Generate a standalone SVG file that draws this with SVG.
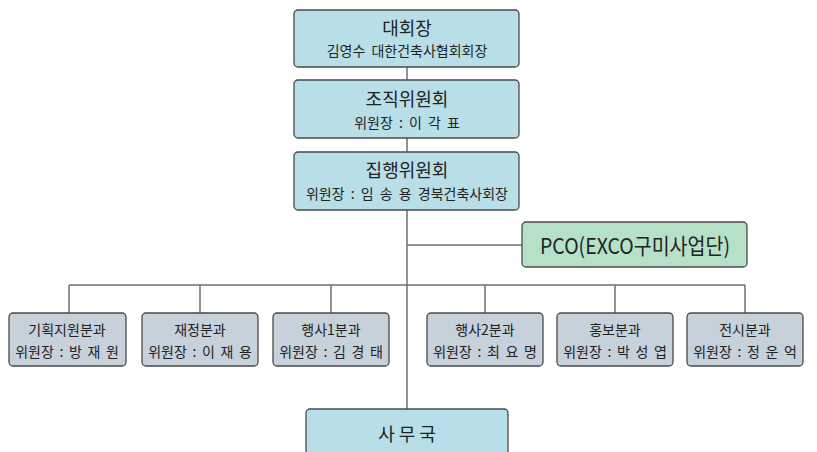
<svg xmlns="http://www.w3.org/2000/svg" width="817" height="452" viewBox="0 0 817 452">
<style>
.box{stroke:#4a4a4a;stroke-width:1.3}
.blue{fill:#b8dfe7}
.green{fill:#b6e1c9}
.gray{fill:#c6d1db}
.ln{stroke:#707070;stroke-width:1.5;fill:none}
text{font-family:"Noto Sans CJK KR","Noto Sans",sans-serif;fill:#222;text-anchor:middle}
.t{font-size:18px}
.s{font-size:14px;word-spacing:3px}
.b{font-size:14px;word-spacing:2.5px}
</style>
<rect width="817" height="452" fill="#fff"/>
<g id="connectors">
<path class="ln" d="M407 67V80M407 138V152M407 210V409M407 245H522M69 285H745M69 285V313M200 285V313M331 285V313M485 285V313M615 285V313M745 285V313"/>
</g>
<g id="n1"><rect class="box blue" x="294" y="10" width="225" height="57" rx="4"/><text class="t" x="407" y="35">대회장</text><text class="s" x="407" y="56">김영수 대한건축사협회회장</text></g>
<g id="n2"><rect class="box blue" x="294" y="80" width="225" height="58" rx="4"/><text class="t" x="407" y="106">조직위원회</text><text class="s" x="407" y="128">위원장 : 이 각 표</text></g>
<g id="n3"><rect class="box blue" x="294" y="152" width="225" height="58" rx="4"/><text class="t" x="407" y="177">집행위원회</text><text class="s" x="407" y="199">위원장 : 임 송 용 경북건축사회장</text></g>
<g id="pco"><rect class="box green" x="522" y="222" width="225" height="45" rx="4"/><text x="635" y="254" font-size="22" textLength="190" lengthAdjust="spacingAndGlyphs">PCO(EXCO구미사업단)</text></g>
<g id="d1"><rect class="box gray" x="9" y="313" width="117" height="53" rx="4"/><text class="b" x="67" y="335">기획지원분과</text><text class="b" x="67" y="357">위원장 : 방 재 원</text></g>
<g id="d2"><rect class="box gray" x="142" y="313" width="116" height="53" rx="4"/><text class="b" x="200" y="335">재정분과</text><text class="b" x="200" y="357">위원장 : 이 재 용</text></g>
<g id="d3"><rect class="box gray" x="273" y="313" width="116" height="53" rx="4"/><text class="b" x="331" y="335">행사1분과</text><text class="b" x="331" y="357">위원장 : 김 경 태</text></g>
<g id="d4"><rect class="box gray" x="427" y="313" width="116" height="53" rx="4"/><text class="b" x="485" y="335">행사2분과</text><text class="b" x="485" y="357">위원장 : 최 요 명</text></g>
<g id="d5"><rect class="box gray" x="557" y="313" width="116" height="53" rx="4"/><text class="b" x="615" y="335">홍보분과</text><text class="b" x="615" y="357">위원장 : 박 성 엽</text></g>
<g id="d6"><rect class="box gray" x="687" y="313" width="116" height="53" rx="4"/><text class="b" x="745" y="335">전시분과</text><text class="b" x="745" y="357">위원장 : 정 운 억</text></g>
<g id="office"><rect class="box blue" x="306" y="409" width="202" height="60" rx="4"/><text class="t" x="407" y="441">사 무 국</text></g>
</svg>
